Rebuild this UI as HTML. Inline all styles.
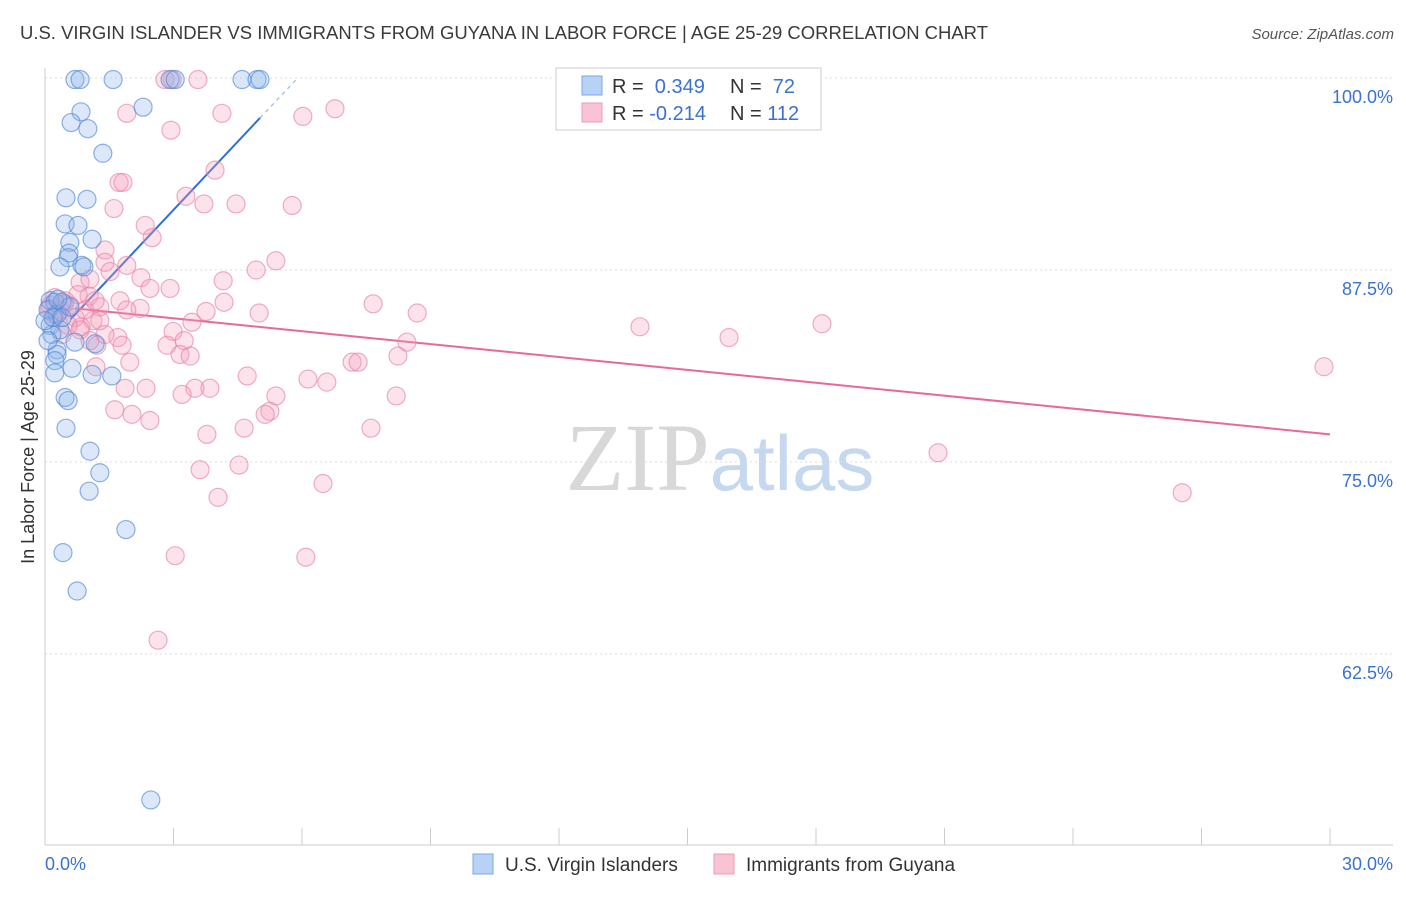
<!DOCTYPE html>
<html><head><meta charset="utf-8"><style>
body{margin:0;background:#fff;font-family:"Liberation Sans",sans-serif;}
svg text{font-family:"Liberation Sans",sans-serif;}
</style></head><body>
<svg id="chart" width="1406" height="892" xmlns="http://www.w3.org/2000/svg">
<text x="20" y="39" font-size="18" fill="#3a3a3a" textLength="968" lengthAdjust="spacingAndGlyphs">U.S. VIRGIN ISLANDER VS IMMIGRANTS FROM GUYANA IN LABOR FORCE | AGE 25-29 CORRELATION CHART</text>
<text x="1394" y="39" font-size="15" fill="#555" text-anchor="end" font-style="italic">Source: ZipAtlas.com</text>
<text x="720" y="490" font-size="96" text-anchor="middle"><tspan font-family="Liberation Serif" fill="#d8d8d8">ZIP</tspan><tspan fill="#c5d8f0" font-size="78">atlas</tspan></text>
<g id="grid"></g>
<g id="axes"></g>
<g id="trends"></g>
<g id="points"></g>
<text transform="translate(34,457) rotate(-90)" font-size="18" fill="#333" text-anchor="middle">In Labor Force | Age 25-29</text>
<g>
<rect x="556" y="68" width="265" height="62" fill="#fff" stroke="#ccc"/>
<rect x="582" y="76" width="20" height="19" fill="#b7d2f5" stroke="#7aa8e6"/>
<rect x="582" y="103" width="20" height="19" fill="#f8c3d3" stroke="#ec9bb6"/>
<text x="612" y="93" font-size="20" fill="#333">R = <tspan fill="#3a72cf">&#160;0.349</tspan><tspan x="730">N = </tspan><tspan fill="#3a72cf">&#160;72</tspan></text>
<text x="612" y="120" font-size="20" fill="#333">R = <tspan fill="#3a72cf">-0.214</tspan><tspan x="730">N = </tspan><tspan fill="#3a72cf">112</tspan></text>
</g>
<g>
<rect x="473" y="854" width="20" height="20" fill="#b7d2f5" stroke="#7aa8e6"/>
<text x="505" y="871" font-size="19" fill="#333">U.S. Virgin Islanders</text>
<rect x="714" y="854" width="20" height="20" fill="#f8c3d3" stroke="#ec9bb6"/>
<text x="746" y="871" font-size="19" fill="#333">Immigrants from Guyana</text>
</g>
</svg>
<script>
const yTicks=[100,87.5,75,62.5];
const yTickLabels=["100.0%","87.5%","75.0%","62.5%"];
const xTicks=[0,3,6,9,12,15,18,21,24,27,30];
const xEndLabels=["0.0%","30.0%"];
const blueX=[0.70,0.82,1.59,2.92,3.04,4.60,4.95,5.02,2.29,0.84,0.61,1.00,1.35,0.49,0.98,0.47,0.77,1.10,0.58,0.56,0.54,0.86,0.35,0.91,0.12,0.23,0.40,0.28,0.12,0.35,0.16,0.70,1.17,0.28,0.28,0.23,0.63,1.10,1.56,0.23,0.47,0.54,0.49,1.05,1.28,1.03,1.89,0.42,0.75,2.47,0.07,0.19,0,0.40,0.07,0.58,0.30];
const blueY=[99.9,99.9,99.9,99.9,99.9,99.9,99.9,99.9,98.1,97.8,97.1,96.7,95.1,92.2,92.1,90.5,90.4,89.5,89.3,88.6,88.3,87.8,87.7,87.7,85.5,85.4,85.4,84.6,83.9,83.6,83.3,82.8,82.7,82.3,82.0,81.6,81.1,80.7,80.6,80.8,79.2,79.0,77.2,75.7,74.3,73.1,70.6,69.1,66.6,53.0,84.9,84.4,84.2,84.4,82.9,85.1,85.6];
const pinkX=[2.80,2.97,3.57,6.77,1.91,4.13,6.02,2.94,3.97,1.73,1.82,3.29,3.71,4.46,5.77,1.61,2.34,2.50,1.40,1.40,1.91,5.39,4.93,1.52,4.16,2.24,0.82,1.05,2.92,2.45,1.03,1.75,4.18,1.28,2.22,1.91,3.76,5.00,7.66,8.69,1.12,3.43,0.84,2.99,1.70,13.89,15.97,18.14,3.25,8.45,2.85,1.21,1.80,3.15,3.39,8.24,7.17,7.31,1.98,1.19,29.86,4.72,6.14,6.58,3.85,3.50,3.20,1.87,2.36,8.20,5.39,5.25,5.14,1.63,2.03,2.45,4.65,7.61,3.78,20.85,4.53,3.62,6.49,4.04,26.55,3.04,6.09,2.64,0.47,0.58,0.35,0.23,0.70,0.93,0.12,1.17,0.54,0.82,1.40,1.05,0.40,0.23,0.77,1.28,0.10,0.30,0.45,0.20];
const pinkY=[99.9,99.9,99.9,98.0,97.7,97.7,97.5,96.6,94.0,93.2,93.2,92.3,91.8,91.8,91.7,91.5,90.4,89.6,88.8,88.0,87.8,88.1,87.5,87.4,86.8,87.0,86.7,86.9,86.3,86.3,85.8,85.5,85.4,85.1,85.0,84.9,84.8,84.7,85.3,84.7,84.2,84.1,83.8,83.5,83.1,83.8,83.1,84.0,82.9,82.8,82.6,82.6,82.6,82.0,81.9,81.9,81.5,81.5,81.5,81.2,81.2,80.6,80.4,80.2,79.8,79.8,79.4,79.8,79.8,79.3,79.3,78.3,78.1,78.4,78.1,77.7,77.2,77.2,76.8,75.6,74.8,74.5,73.6,72.7,73.0,68.9,68.8,63.4,85.5,85.2,84.9,84.6,84.4,84.9,85.2,85.5,83.9,83.6,83.3,82.9,83.3,85.7,85.9,84.2,85.0,84.7,85.3,84.4];
const blueTrendX=[0.6,5.02,5.9];
const blueTrendY=[84.3,97.4,100];
const pinkTrendX=[0.7,30];
const pinkTrendY=[85.0,76.8];

const NS="http://www.w3.org/2000/svg";
const sx=v=>45+v/30*1285;
const sy=v=>78+(100-v)/12.5*192;
function mk(tag,attrs,parent){const e=document.createElementNS(NS,tag);for(const k in attrs)e.setAttribute(k,attrs[k]);parent.appendChild(e);return e;}
const grid=document.getElementById('grid'),axes=document.getElementById('axes'),pts=document.getElementById('points'),tr=document.getElementById('trends');
yTicks.forEach((t,i)=>{
 const l=mk('line',{x1:45,x2:1393,y1:sy(t),y2:sy(t),stroke:'#ddd','stroke-dasharray':'2,3'},grid);
 
 
 const tx=mk('text',{x:1393,y:sy(t)+25,'font-size':18,fill:'#3a72cf','text-anchor':'end'},axes);
 tx.textContent=yTickLabels[i];
 
 
});
mk('line',{x1:45,x2:45,y1:68,y2:845,stroke:'#ccc'},axes);
mk('line',{x1:45,x2:1393,y1:845,y2:845,stroke:'#ccc'},axes);
xTicks.forEach(t=>{
 const l=mk('line',{x1:sx(t),x2:sx(t),y1:828,y2:845,stroke:'#ccc'},axes);
 
 
});
const xl0=mk('text',{x:45,y:870,'font-size':18,fill:'#3a72cf'},axes);xl0.textContent=xEndLabels[0];


const xl1=mk('text',{x:1393,y:870,'font-size':18,fill:'#3a72cf','text-anchor':'end'},axes);xl1.textContent=xEndLabels[1];


pinkX.forEach((x,i)=>{
 const c=mk('circle',{cx:sx(x),cy:sy(pinkY[i]),r:9,fill:'rgba(244,160,188,0.3)',stroke:'rgba(230,130,165,0.65)','stroke-width':1.2},pts);
 
 
});
blueX.forEach((x,i)=>{
 const c=mk('circle',{cx:sx(x),cy:sy(blueY[i]),r:9,fill:'rgba(140,180,235,0.3)',stroke:'rgba(80,135,215,0.65)','stroke-width':1.2},pts);
 
 
});
const b1=mk('line',{x1:sx(blueTrendX[0]),y1:sy(blueTrendY[0]),x2:sx(blueTrendX[1]),y2:sy(blueTrendY[1]),stroke:'#2f6fd6','stroke-width':2},tr);


const b2=mk('line',{x1:sx(blueTrendX[1]),y1:sy(blueTrendY[1]),x2:sx(blueTrendX[2]),y2:sy(blueTrendY[2]),stroke:'#9bb8e6','stroke-width':1.2,'stroke-dasharray':'4,4'},tr);


const p1=mk('line',{x1:sx(pinkTrendX[0]),y1:sy(pinkTrendY[0]),x2:sx(pinkTrendX[1]),y2:sy(pinkTrendY[1]),stroke:'#e8689a','stroke-width':2},tr);


</script>
</body></html>
